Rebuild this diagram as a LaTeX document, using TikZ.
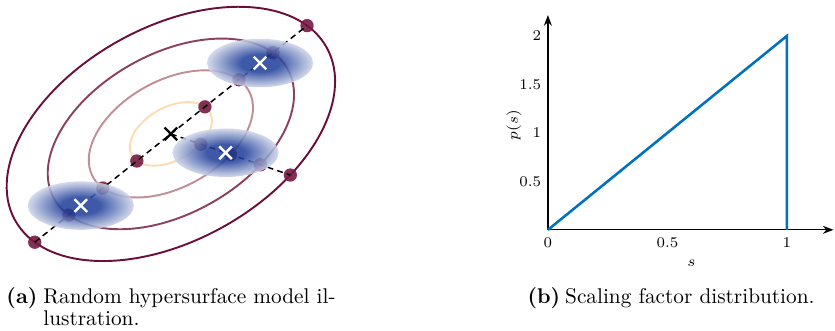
\documentclass[tikz,border=0pt]{standalone}
\usepackage{xcolor}
\usepackage{tikz}
\usetikzlibrary{arrows.meta,positioning,calc,shapes.misc}
\definecolor{ring4}{HTML}{6A0F3C}
\definecolor{ring3}{HTML}{8B405F}
\definecolor{ring2}{HTML}{BF8E97}
\definecolor{ring1}{HTML}{FCDCB4}
\definecolor{dotcol}{HTML}{741B43}
\definecolor{blobcol}{HTML}{1C3C98}
\definecolor{plotblue}{HTML}{0072BD}
\pgfdeclareradialshading{blobshade}{\pgfpoint{0bp}{0bp}}{color(0bp)=(blobcol); color(9bp)=(blobcol); color(25bp)=(blobcol!22); color(50bp)=(blobcol!22)}
\tikzset{
  ring/.style={line width=0.9pt},
  dot/.style={circle, fill=dotcol, fill opacity=0.9, inner sep=0pt, minimum size=0.22cm},
  dashline/.style={dash pattern=on 2.8pt off 2pt, line width=0.7pt},
  blob/.style={shading=blobshade, opacity=0.85},
  cross/.style={cross out, line width=1.1pt, inner sep=0pt, minimum size=0.17cm},
  axis/.style={-{Stealth[length=5pt]}, line width=0.6pt},
  pline/.style={plotblue, line width=1.2pt},
  tick/.style={font=\scriptsize, inner sep=1pt},
  captext/.style={anchor=base west, inner sep=0pt, align=left}
}

\begin{document}
\begin{tikzpicture}
  \useasboundingbox (0,0) rectangle (13.78,5.46);
  % (a) random hypersurface model
  \coordinate (ctr) at (2.82,3.25);
  \foreach \s/\c in {1/ring4,0.75/ring3,0.5/ring2,0.25/ring1}
    \draw[ring, draw=\c, rotate around={29:(ctr)}] (ctr) ellipse ({\s*2.94} and {\s*1.76});
  \foreach \s/\k in {0.25/1,0.5/2,0.75/3,1/4} {
    \node[dot] (up\k) at ($(ctr)+(38.5:{\s*2.871})$) {};
    \node[dot] (dn\k) at ($(ctr)+(218.5:{\s*2.871})$) {};
    \node[dot] (rt\k) at ($(ctr)+(-19:{\s*2.085})$) {};
  }
  \draw[dashline] (dn4.center) -- (up4.center);
  \draw[dashline] (ctr) -- (rt4.center);
  \coordinate (m1) at ($(ctr)+(218.5:1.90)$);
  \coordinate (m2) at ($(ctr)+(-19:0.955)$);
  \coordinate (m3) at ($(ctr)+(38.5:1.88)$);
  \foreach \m in {m1,m2,m3}
    \shade[blob] (\m) ellipse (0.875 and 0.40);
  \node[cross, draw=white] (x1) at (m1) {};
  \node[cross, draw=white] (x2) at (m2) {};
  \node[cross, draw=white] (x3) at (m3) {};
  \node[cross, draw=black] (xc) at (ctr) {};
  % (b) scaling factor distribution
  \begin{scope}[shift={(9.042,1.667)}, x=3.944cm, y=1.6cm]
    \coordinate (O) at (0,0);
    \coordinate (peak) at (1,2);
    \coordinate (foot) at (1,0);
    \coordinate (xend) at (1.195,0);
    \coordinate (yend) at (0,2.215);
    \draw[axis] (O) -- (xend);
    \draw[axis] (O) -- (yend);
    \draw[pline] (O) -- (peak) -- (foot);
    \foreach \v/\n in {0/xa,0.5/xb,1/xc}
      \node[tick, below=2.5pt] (\n) at (\v,0) {\v};
    \foreach \v/\n in {0.5/ya,1/yb,1.5/yc,2/yd}
      \node[tick, left=2pt] (\n) at (0,\v) {\v};
    \node[tick] (slab) at (0.6,-0.34) {$s$};
    \node[tick, rotate=90] (plab) at (-0.142,1.08) {$p(s)$};
  \end{scope}
  % captions
  \node[captext] (capa) at (0.1,0.454) {\textbf{(a)}};
  \node[captext, font=\fontsize{10}{10.3}\selectfont] (capatext) at (0.71,0.092) {Random hypersurface model il-\\lustration.};
  \node[captext] (capb) at (8.70,0.454) {\textbf{(b)}};
  \node[captext] (capbtext) at (9.32,0.454) {Scaling factor distribution.};
\end{tikzpicture}
\end{document}
